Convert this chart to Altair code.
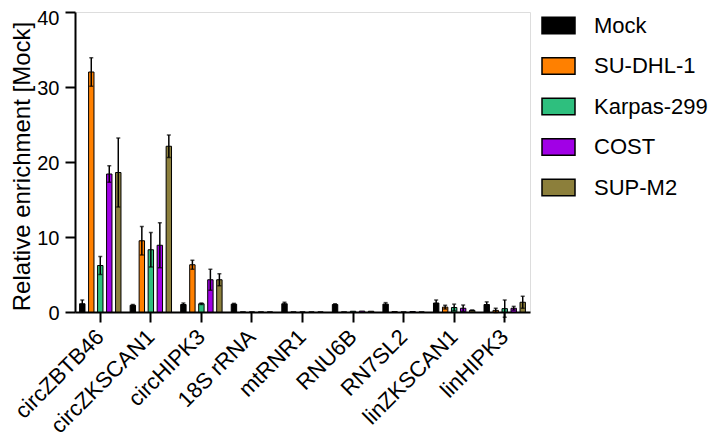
import altair as alt
import pandas as pd

categories = ["circZBTB46", "circZKSCAN1", "circHIPK3", "18S rRNA", "mtRNR1",
              "RNU6B", "RN7SL2", "linZKSCAN1", "linHIPK3"]
series = ["Mock", "SU-DHL-1", "Karpas-299", "COST", "SUP-M2"]
colors = ["#000000", "#FF8000", "#2EBF7E", "#A100E6", "#8C7F3B"]

mock = [1.1, 0.9, 1.0, 1.05, 1.1, 1.0, 1.05, 1.2, 1.0]
mock_err = [0.5, 0.1, 0.2, 0.1, 0.2, 0.1, 0.2, 0.4, 0.35]
sudhl1 = [32.0, 9.5, 6.3, 0, 0, 0.0, 0.05, 0.65, 0.22]
sudhl1_err = [1.9, 1.9, 0.6, 0, 0, 0, 0, 0.25, 0.28]
karpas = [6.2, 8.3, 1.1, 0, 0, 0.1, 0, 0.6, 0.45]
karpas_err = [1.2, 2.3, 0.1, 0, 0, 0, 0, 0.45, 1.15]
cost = [18.4, 8.9, 4.3, 0, 0, 0.12, 0.06, 0.5, 0.5]
cost_err = [1.1, 3.0, 1.4, 0, 0, 0, 0, 0.43, 0.25]
supm2 = [18.6, 22.1, 4.3, 0, 0, 0.1, 0, 0.22, 1.3]
supm2_err = [4.6, 1.5, 0.8, 0, 0, 0, 0, 0.05, 0.8]

vals = [mock, sudhl1, karpas, cost, supm2]
errs = [mock_err, sudhl1_err, karpas_err, cost_err, supm2_err]

rows = []
for s, v, e in zip(series, vals, errs):
    for c, vi, ei in zip(categories, v, e):
        rows.append({"cat": c, "series": s, "value": vi,
                     "lo": vi - ei, "hi": vi + ei, "err": ei})
df = pd.DataFrame(rows)

FONT = "Liberation Sans"

x = alt.X("cat:N", sort=categories, title=None,
          scale=alt.Scale(paddingInner=0.11, paddingOuter=0.055),
          axis=alt.Axis(labelAngle=-45, labelFontSize=22, labelFont=FONT,
                        labelColor="black", tickSize=10, tickWidth=2,
                        tickColor="black", domainColor="black", domainWidth=2,
                        labelPadding=11, grid=False, labelAlign="right",
                        labelBaseline="middle"))
xoff = alt.XOffset("series:N", sort=series,
                   scale=alt.Scale(paddingInner=0.4, paddingOuter=0.2))

bars = alt.Chart(df).mark_bar(stroke="black", strokeWidth=1).encode(
    x=x,
    xOffset=xoff,
    y=alt.Y("value:Q", scale=alt.Scale(domain=[0, 40], nice=False),
            title="Relative enrichment [Mock]",
            axis=alt.Axis(values=[0, 10, 20, 30, 40], labelFontSize=20,
                          labelFont=FONT, labelColor="black", tickSize=10,
                          tickWidth=2, tickColor="black", domainColor="black",
                          domainWidth=2, labelPadding=6, grid=False,
                          labelOffset=alt.expr("datum.value == 40 ? 6 : 1"),
                          titleFont=FONT, titleFontSize=24, titleFontWeight="normal",
                          titleColor="black", titleX=-53, titleY=154,
                          titleBaseline="middle", titleAlign="center")),
    color=alt.Color("series:N", sort=series,
                    scale=alt.Scale(domain=series, range=colors),
                    legend=alt.Legend(title=None, orient="none", legendX=466,
                                      legendY=-4, labelFont=FONT, labelFontSize=22,
                                      labelColor="black", labelOffset=18,
                                      symbolType="M-1,-0.5H1V0.5H-1Z",
                                      symbolSize=1089, symbolStrokeColor="black",
                                      symbolStrokeWidth=1.5, symbolOpacity=1,
                                      rowPadding=11.5, labelLimit=200)),
)

errdf = df[df["err"] > 0]
rules = alt.Chart(errdf).mark_rule(color="black", strokeWidth=1.5).encode(
    x=alt.X("cat:N", sort=categories),
    xOffset=xoff,
    y="lo:Q",
    y2="hi:Q",
)
caps_hi = alt.Chart(errdf).mark_tick(color="black", thickness=1.5, size=4).encode(
    x=alt.X("cat:N", sort=categories),
    xOffset=xoff,
    y="hi:Q",
)
caps_lo = alt.Chart(errdf).mark_tick(color="black", thickness=1.5, size=4).encode(
    x=alt.X("cat:N", sort=categories),
    xOffset=xoff,
    y="lo:Q",
)

chart = alt.layer(bars, rules, caps_hi, caps_lo).properties(
    width=455, height=300,
    autosize=alt.AutoSizeParams(type="none"),
    padding={"left": 67, "top": 4, "right": 179, "bottom": 128},
).configure_view(stroke=None).configure(background="white")

chart.save("out.html", embed_options={"renderer": "svg", "actions": False})
